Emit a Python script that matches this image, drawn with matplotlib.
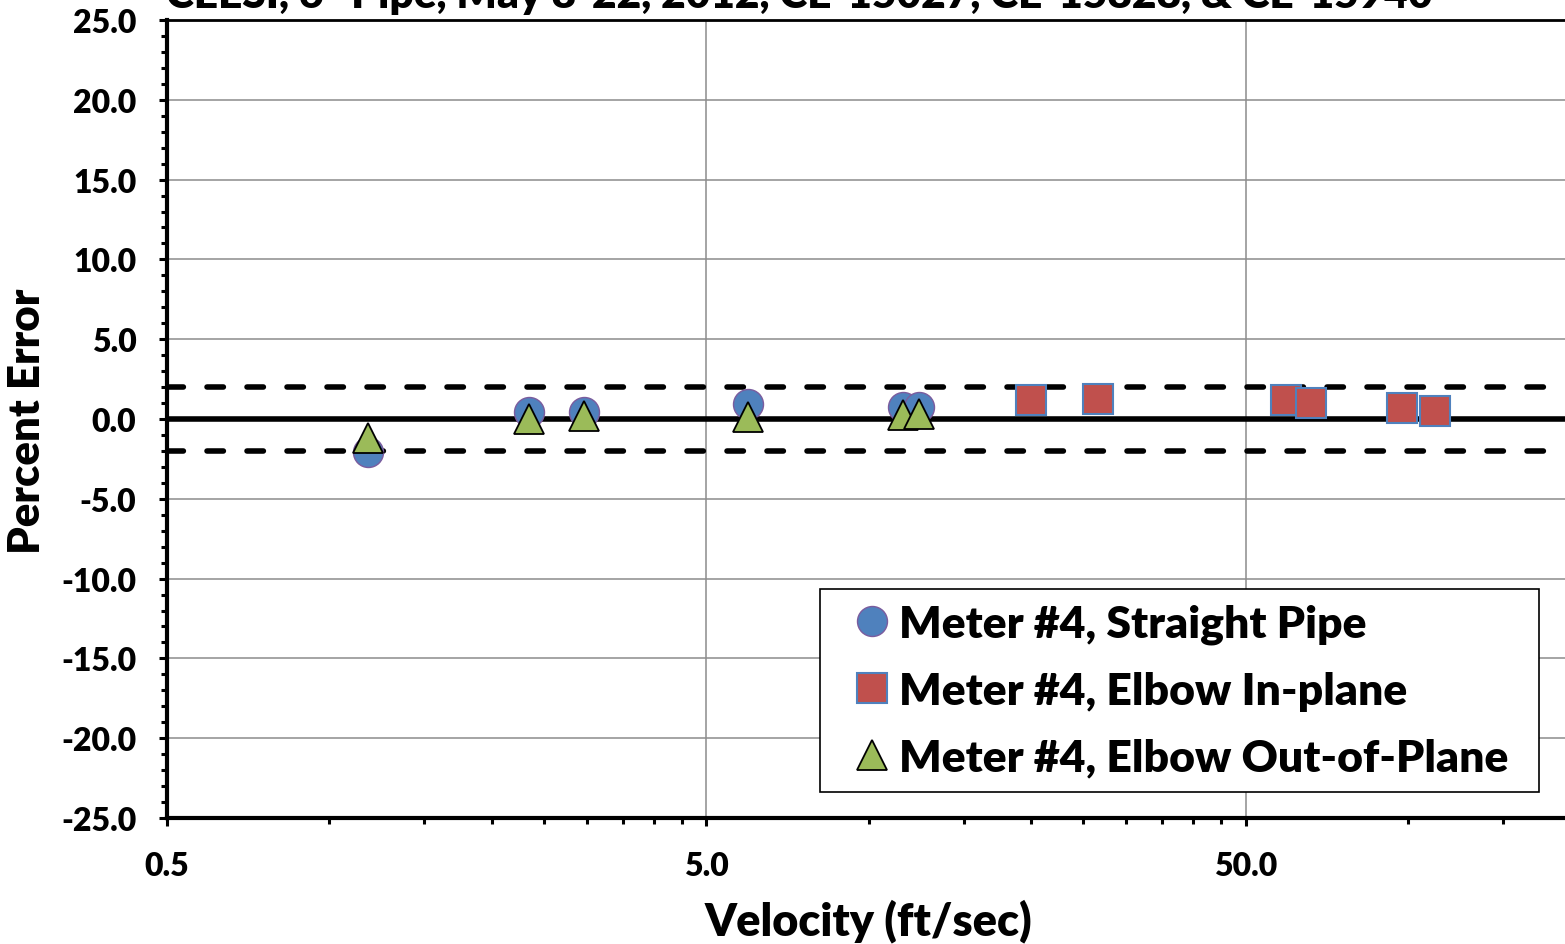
import matplotlib
matplotlib.use('Agg')
import matplotlib.pyplot as plt
import numpy as np
from matplotlib.ticker import FixedLocator, NullFormatter, FixedFormatter


OUTPUT_PNG = 'out.png'

TITLE = 'CEESI, 6" Pipe, May 8-22, 2012, CE-15027, CE-15828, & CE-15940'
X_LABEL = 'Velocity (ft/sec)'
Y_LABEL = 'Percent Error'

# velocities (ft/sec) and percent error
straight_velocity = [1.18, 2.35, 2.96, 5.97, 11.57, 12.4]
straight_error = [-2.07, 0.41, 0.41, 0.94, 0.75, 0.75]

inplane_velocity = [20.0, 26.6, 59.5, 66.0, 97.5, 112.4]
inplane_error = [1.19, 1.28, 1.19, 1.0, 0.69, 0.52]

outplane_velocity = [1.18, 2.35, 2.96, 5.97, 11.57, 12.4]
outplane_error = [-1.19, 0.0, 0.2, 0.12, 0.25, 0.34]

series_labels = [
    'Meter #4, Straight Pipe',
    'Meter #4, Elbow In-plane',
    'Meter #4, Elbow Out-of-Plane',
]

x_tick_values = [0.5, 5.0, 50.0]
x_tick_labels = ['0.5', '5.0', '50.0']
y_tick_values = [-25, -20, -15, -10, -5, 0, 5, 10, 15, 20, 25]
error_band = 2.0

FONT = 'Lato'
WEIGHT = 'heavy'
W, H = 1565, 945


def main():
    plt.rcParams['font.family'] = [FONT, 'DejaVu Sans']
    plt.rcParams['font.weight'] = WEIGHT

    fig = plt.figure(figsize=(W / 100, H / 100), dpi=100)
    # plot area runs past the right edge, as in the cropped original
    left, right, top, bottom = 167, 1785, 21, 819
    ax = fig.add_axes([left / W, 1 - bottom / H, (right - left) / W, (bottom - top) / H])

    ax.set_xscale('log')
    ax.set_xlim(0.5, 500)
    ax.set_ylim(-25, 25)

    ax.grid(True, which='major', color='#8c8c8c', linewidth=1.1, zorder=0)

    ax.axhline(0, color='black', linewidth=4, zorder=2)
    for level in (error_band, -error_band):
        ax.axhline(level, color='black', linewidth=4, dashes=(2.95, 4.25),
                   dash_capstyle='round', zorder=2)

    ms = 21.6
    ax.plot(straight_velocity, straight_error, linestyle='none', marker='o',
            markersize=ms, markerfacecolor='#4F81BD', markeredgecolor='#7B5C9E',
            markeredgewidth=1.0, label=series_labels[0], zorder=3)
    ax.plot(inplane_velocity, inplane_error, linestyle='none', marker='s',
            markersize=ms, markerfacecolor='#C0504D', markeredgecolor='#4F81BD',
            markeredgewidth=1.5, label=series_labels[1], zorder=3)
    ax.plot(outplane_velocity, outplane_error, linestyle='none', marker='^',
            markersize=ms, markerfacecolor='#9BBB59', markeredgecolor='black',
            markeredgewidth=1.3, label=series_labels[2], zorder=4)

    # excel-style log minor ticks: 0.5 * k for k = 2..9 in each decade
    minor = [0.5 * k * 10 ** d for d in range(3) for k in range(2, 10)]
    ax.xaxis.set_major_locator(FixedLocator(x_tick_values))
    ax.xaxis.set_major_formatter(FixedFormatter(x_tick_labels))
    ax.xaxis.set_minor_locator(FixedLocator(minor))
    ax.xaxis.set_minor_formatter(NullFormatter())
    ax.yaxis.set_major_locator(FixedLocator(y_tick_values))
    ax.yaxis.set_major_formatter(FixedFormatter([f'{v:.1f}' for v in y_tick_values]))
    ax.yaxis.set_minor_locator(FixedLocator(np.arange(-25, 26, 1)))

    ax.tick_params(axis='both', which='major', direction='out', length=6, width=2.2,
                   labelsize=23)
    ax.tick_params(axis='both', which='minor', direction='out', length=4.5, width=2.2)
    ax.tick_params(axis='x', which='major', pad=18)
    ax.tick_params(axis='y', which='major', pad=16)
    for label in ax.get_xticklabels() + ax.get_yticklabels():
        label.set_fontweight(WEIGHT)

    for name in ('left', 'bottom'):
        ax.spines[name].set_linewidth(3)
        ax.spines[name].set_color('black')
    ax.spines['top'].set_linewidth(2)
    ax.spines['right'].set_visible(False)

    fig.text(799 / W, 1 - 8 / H, TITLE, ha='center', va='baseline',
             fontsize=30.5, fontweight=WEIGHT)
    fig.text(868 / W, 1 - 921 / H, X_LABEL, ha='center', va='center',
             fontsize=32.5, fontweight=WEIGHT)
    fig.text(27 / W, 1 - 421 / H, Y_LABEL, ha='center', va='center',
             rotation=90, fontsize=31.5, fontweight=WEIGHT)

    # legend box spans x 820-1539, y 590-792 px in the original
    leg = ax.legend(loc='upper left',
                    bbox_to_anchor=(820 / W, 1 - 792 / H, 719 / W, 202 / H),
                    bbox_transform=fig.transFigure, borderaxespad=0, mode='expand',
                    fontsize=32, frameon=True, fancybox=False, framealpha=1,
                    edgecolor='black', handlelength=1.68, handletextpad=-0.24,
                    borderpad=0.33, labelspacing=0.6, markerscale=1.0)
    leg.get_frame().set_linewidth(1.2)
    for text in leg.get_texts():
        text.set_fontweight(WEIGHT)

    fig.savefig(OUTPUT_PNG, dpi=100)
    plt.close(fig)


if __name__ == '__main__':
    main()
